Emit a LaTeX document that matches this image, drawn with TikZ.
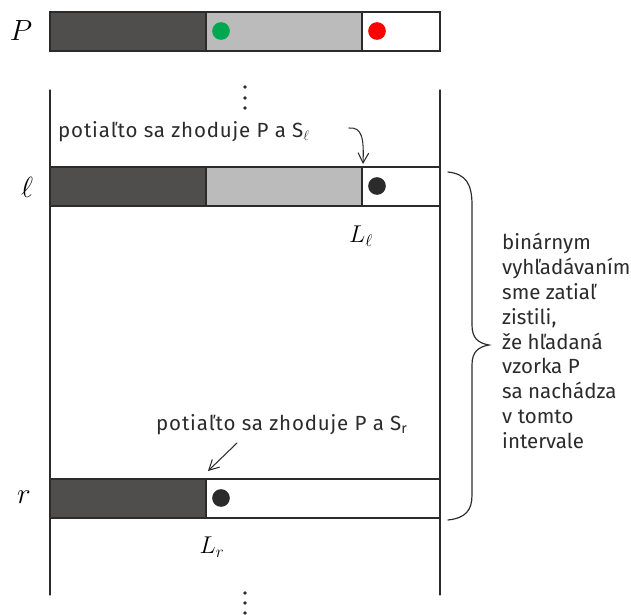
\documentclass[tikz,border=0pt]{standalone}
\usepackage{fontspec}
\setmainfont{Fira Sans}
\usetikzlibrary{arrows.meta,positioning}
\definecolor{darkseg}{HTML}{4F4E4D}
\definecolor{lightseg}{HTML}{BBBBBB}
\definecolor{matchgreen}{HTML}{00A650}
\definecolor{mismatchred}{HTML}{FF0000}
\definecolor{ink}{HTML}{2B2B2B}
\begin{document}
\begin{tikzpicture}[x=0.03cm, y=-0.03cm, line cap=round,
  seg/.style={draw=ink, line width=1.1pt},
  wall/.style={ink, line width=1pt},
  dot/.style={circle, minimum size=5.3mm, inner sep=0pt},
  rowlabel/.style={font=\fontsize{23}{26}\selectfont, inner sep=0pt},
  poslabel/.style={font=\fontsize{21}{24}\selectfont, inner sep=0pt},
  note/.style={font=\fontsize{17.5}{21.2}\selectfont\addfontfeatures{LetterSpace=4}, inner sep=0pt, text=ink},
  sidenote/.style={font=\fontsize{17.5}{21.2}\selectfont, inner sep=0pt, text=ink, align=left},
  pointer/.style={-{Straight Barb[length=3mm,width=3.2mm]}, line width=0.9pt, ink}]
  \useasboundingbox (0,0) rectangle (631,615);

  % vzorka P
  \filldraw[seg, fill=darkseg] (50,12) rectangle (206,51);
  \filldraw[seg, fill=lightseg] (206,12) rectangle (362,51);
  \draw[seg] (362,12) rectangle (440,51);
  \node[dot, fill=matchgreen] (pgreen) at (221,31) {};
  \node[dot, fill=mismatchred] (pred) at (377,31) {};
  \node[rowlabel] (plbl) at (21,31) {$P$};

  % interval
  \draw[wall] (50,90) -- (50,595);
  \draw[wall] (440,90) -- (440,595);
  \foreach \y in {87,98,108} \fill[ink] (245,\y) circle[radius=1.6pt];
  \foreach \y in {593,603,613} \fill[ink] (245,\y) circle[radius=1.6pt];

  % riadok l
  \filldraw[seg, fill=darkseg] (50,167) rectangle (206,206);
  \filldraw[seg, fill=lightseg] (206,167) rectangle (362,206);
  \draw[seg] (362,167) rectangle (440,206);
  \node[dot, fill=ink] (ldot) at (377,186) {};
  \node[rowlabel] (llbl) at (27,187) {$\ell$};
  \node[poslabel] (Ll) at (361,236) {$L_\ell$};
  \node[note, anchor=west] (noteL) at (58,132) {potiaľto sa zhoduje P a S$_\ell$};
  \coordinate (ltail) at (349,128);
  \coordinate (lhit) at (363,164);
  \draw[pointer] (ltail) .. controls (362,127) and (364,138) .. (lhit);

  % riadok r
  \filldraw[seg, fill=darkseg] (50,479) rectangle (206,518);
  \draw[seg] (206,479) rectangle (440,518);
  \node[dot, fill=ink] (rdot) at (221,498) {};
  \node[rowlabel] (rlbl) at (24,497) {$r$};
  \node[poslabel] (Lr) at (212,547) {$L_r$};
  \node[note, anchor=west] (noteR) at (156,425) {potiaľto sa zhoduje P a S$_{\mathrm{r}}$};
  \coordinate (rtail) at (237,443);
  \coordinate (rhit) at (208,471);
  \draw[pointer] (rtail) -- (rhit);

  % zatvorka
  \draw[wall] (448,172) .. controls (466,174) and (472,184) .. (472,205) -- (472,325)
    .. controls (472,338) and (478,343) .. (489,345)
    .. controls (478,347) and (472,352) .. (472,365) -- (472,495)
    .. controls (472,510) and (466,518) .. (448,520);
  \node[sidenote, anchor=north west] (brtext) at (502,233)
    {binárnym\\vyhľadávaním\\sme zatiaľ\\zistili,\\že hľadaná\\vzorka P\\sa nachádza\\v tomto\\intervale};
\end{tikzpicture}
\end{document}
